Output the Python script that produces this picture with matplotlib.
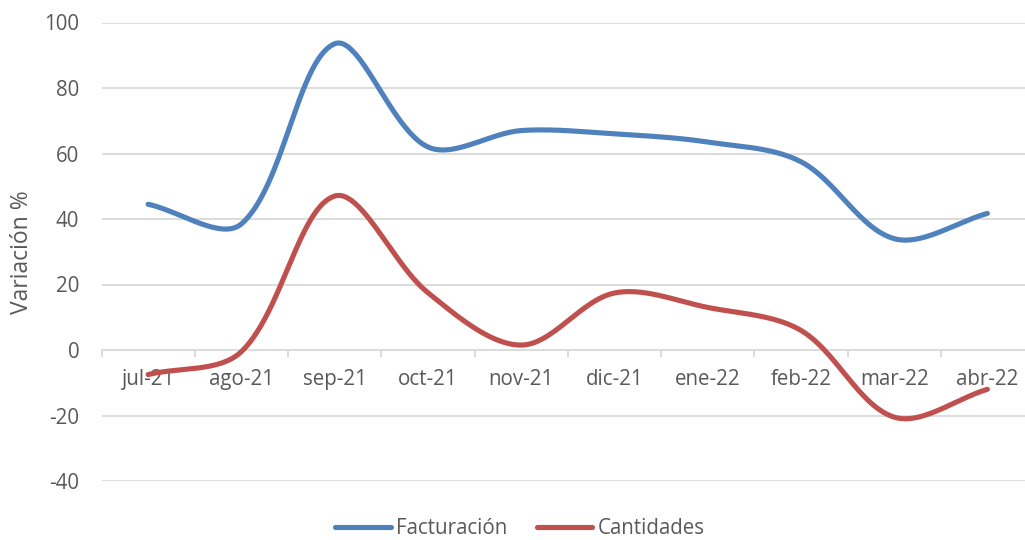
import numpy as np
import matplotlib
matplotlib.use("Agg")
import matplotlib.pyplot as plt
from matplotlib.lines import Line2D

categories = ["jul-21", "ago-21", "sep-21", "oct-21", "nov-21", "dic-21",
              "ene-22", "feb-22", "mar-22", "abr-22"]
facturacion = [44.5, 38.5, 93.5, 62.0, 67.0, 66.0, 63.5, 57.5, 34.0, 41.7]
cantidades = [-7.5, -0.5, 47.0, 17.5, 1.5, 17.4, 13.0, 6.0, -20.5, -12.0]
series_names = ["Facturación", "Cantidades"]
yticks = [-40, -20, 0, 20, 40, 60, 80, 100]

BLUE = "#4F81BD"
RED = "#C0504D"
GRID = "#D9D9D9"
TXT = "#595959"
FS = 14.8
FS_TITLE = 16.5

plt.rcParams['font.family'] = ['Open Sans', 'DejaVu Sans']

# axes placement in pixels
L, R, T, B = 101.5, 1034.0, 22.5, 481.0
XPX = (R - L) / len(categories)
YPX = (B - T) / 140.0


def smooth(xs, ys, n=50):
    """Smoothed line: cubic Bezier through the points, length-weighted tangents
    computed in screen space (Excel-like)."""
    P = np.column_stack([np.asarray(xs, float) * XPX, np.asarray(ys, float) * YPX])
    m = len(P)
    out = []
    for i in range(m - 1):
        p0 = P[i - 1] if i > 0 else P[i]
        p1 = P[i]
        p2 = P[i + 1]
        p3 = P[i + 2] if i + 2 < m else P[i + 1]
        l01 = np.linalg.norm(p1 - p0)
        l12 = np.linalg.norm(p2 - p1)
        l23 = np.linalg.norm(p3 - p2)
        w1 = l12 / (l01 + l12) if (l01 + l12) > 0 else 0.5
        w2 = l12 / (l12 + l23) if (l12 + l23) > 0 else 0.5
        c1 = p1 + (p2 - p0) * w1 / 3.0
        c2 = p2 - (p3 - p1) * w2 / 3.0
        t = np.linspace(0, 1, n)[:, None]
        seg = ((1 - t) ** 3) * p1 + 3 * ((1 - t) ** 2) * t * c1 + 3 * (1 - t) * t ** 2 * c2 + t ** 3 * p2
        if i > 0:
            seg = seg[1:]
        out.append(seg)
    out = np.vstack(out)
    return out[:, 0] / XPX, out[:, 1] / YPX


fig = plt.figure(figsize=(10.25, 5.4), dpi=100)
ax = fig.add_axes([L / 1025, 1 - B / 540, (R - L) / 1025, (B - T) / 540])

x = np.arange(len(categories))
for vals, col in [(facturacion, BLUE), (cantidades, RED)]:
    sx, sy = smooth(x, vals)
    ax.plot(sx, sy, color=col, lw=3.7, solid_capstyle='round', zorder=3)

ax.set_xlim(-0.5, len(categories) - 0.5)
ax.set_ylim(-40, 100)
ax.set_yticks(yticks)
ax.set_yticklabels([str(v) for v in yticks])
for v in yticks:
    if v != 0:
        ax.axhline(v, color=GRID, lw=1.3, zorder=1)

for s in ['top', 'right', 'left']:
    ax.spines[s].set_visible(False)
ax.spines['bottom'].set_position(('data', 0))
ax.spines['bottom'].set_color(GRID)
ax.spines['bottom'].set_linewidth(1.3)

ax.set_xticks(x)
ax.set_xticklabels(categories)
ax.set_xticks(np.arange(len(categories) + 1) - 0.5, minor=True)
ax.tick_params(axis='x', which='major', length=0, pad=14, labelsize=FS, labelcolor=TXT)
ax.tick_params(axis='x', which='minor', length=5, width=1.3, color=GRID)
ax.tick_params(axis='y', length=0, pad=16, labelsize=FS, labelcolor=TXT)

ax.set_ylabel("Variación %", fontsize=FS_TITLE, color=TXT, va='center', ha='center')
ax.yaxis.set_label_coords(-(101.5 - 22) / (R - L), 0.5)

handles = [Line2D([0], [0], color=BLUE, lw=3.7, solid_capstyle='round'),
           Line2D([0], [0], color=RED, lw=3.7, solid_capstyle='round')]
fig.legend(handles, series_names, loc='center', bbox_to_anchor=(0.507, 1 - 529 / 540),
           ncol=2, frameon=False, fontsize=FS, labelcolor=TXT,
           handlelength=2.7, handletextpad=0.25, columnspacing=1.45)

fig.savefig("out.png", dpi=100)
